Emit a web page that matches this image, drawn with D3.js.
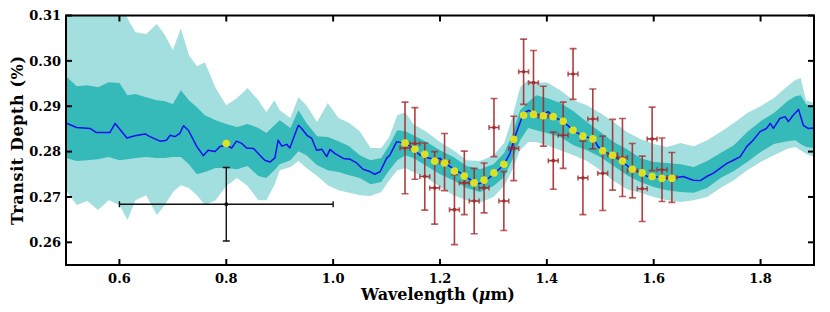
<!DOCTYPE html>
<html>
<head>
<meta charset="utf-8">
<script src="https://cdn.jsdelivr.net/npm/d3@7/dist/d3.min.js"></script>
<style>
  html, body { margin: 0; padding: 0; background: #fff; }
  svg { display: block; }
</style>
</head>
<body>
<svg id="chart" width="830" height="312"></svg>
<script>
// ---------------- data ----------------
const xTicks = [0.6, 0.8, 1.0, 1.2, 1.4, 1.6, 1.8];
const yTicks = [0.26, 0.27, 0.28, 0.29, 0.30, 0.31];

// median model spectrum
const modelWl = [0.502,0.520,0.545,0.557,0.582,0.592,0.614,0.629,0.648,0.657,0.676,0.688,0.695,0.704,0.713,0.720,0.729,0.745,0.757,0.766,0.779,0.788,0.800,0.810,0.819,0.829,0.838,0.851,0.863,0.872,0.882,0.891,0.897,0.904,0.913,0.919,0.929,0.935,0.941,0.951,0.960,0.969,0.979,0.988,0.994,1.003,1.019,1.032,1.044,1.056,1.069,1.078,1.088,1.100,1.106,1.119,1.134,1.144,1.163,1.181,1.200,1.209,1.219,1.238,1.256,1.269,1.282,1.300,1.319,1.331,1.338,1.347,1.356,1.366,1.375,1.387,1.403,1.412,1.431,1.449,1.467,1.478,1.487,1.496,1.504,1.515,1.523,1.541,1.552,1.560,1.578,1.588,1.597,1.615,1.634,1.655,1.674,1.687,1.699,1.711,1.724,1.737,1.749,1.762,1.774,1.786,1.799,1.811,1.818,1.824,1.836,1.846,1.852,1.861,1.871,1.880,1.889,1.900];
const modelDepth = [0.2862,0.2853,0.2851,0.2842,0.2842,0.2862,0.2830,0.2835,0.2839,0.2833,0.2823,0.2825,0.2836,0.2833,0.2840,0.2857,0.2847,0.2811,0.2791,0.2803,0.2800,0.2811,0.2814,0.2808,0.2823,0.2818,0.2808,0.2807,0.2792,0.2781,0.2777,0.2786,0.2825,0.2812,0.2816,0.2808,0.2840,0.2858,0.2851,0.2836,0.2829,0.2803,0.2805,0.2789,0.2805,0.2796,0.2785,0.2783,0.2775,0.2761,0.2756,0.2750,0.2756,0.2785,0.2792,0.2822,0.2818,0.2812,0.2792,0.2785,0.2785,0.2774,0.2767,0.2753,0.2739,0.2728,0.2733,0.2750,0.2770,0.2796,0.2825,0.2855,0.2884,0.2891,0.2885,0.2880,0.2888,0.2877,0.2866,0.2847,0.2834,0.2831,0.2829,0.2811,0.2802,0.2796,0.2792,0.2779,0.2767,0.2761,0.2753,0.2745,0.2747,0.2741,0.2741,0.2745,0.2737,0.2736,0.2745,0.2752,0.2763,0.2774,0.2781,0.2789,0.2811,0.2825,0.2844,0.2851,0.2862,0.2851,0.2873,0.2877,0.2866,0.2880,0.2893,0.2858,0.2851,0.2852];

// credible-interval bands
const bandWl = [0.50,0.52,0.54,0.56,0.58,0.60,0.615,0.63,0.65,0.67,0.685,0.70,0.715,0.73,0.745,0.76,0.78,0.80,0.82,0.84,0.86,0.875,0.89,0.90,0.92,0.935,0.95,0.97,0.99,1.01,1.03,1.05,1.07,1.09,1.105,1.12,1.135,1.15,1.175,1.20,1.225,1.25,1.275,1.30,1.32,1.335,1.35,1.365,1.38,1.40,1.425,1.45,1.475,1.50,1.525,1.55,1.575,1.60,1.625,1.65,1.675,1.70,1.725,1.75,1.775,1.80,1.825,1.85,1.865,1.875,1.885,1.90];
const band2Hi = [0.3156,0.3156,0.3156,0.3156,0.3156,0.3145,0.3094,0.3063,0.3059,0.3081,0.3057,0.3024,0.3072,0.3013,0.2988,0.2997,0.2940,0.2902,0.2918,0.2940,0.2913,0.2887,0.2913,0.2891,0.2874,0.2920,0.2902,0.2865,0.2907,0.2874,0.2863,0.2845,0.2808,0.2808,0.2832,0.2880,0.2887,0.2861,0.2843,0.2821,0.2803,0.2781,0.2779,0.2792,0.2819,0.2874,0.2942,0.2958,0.2951,0.2953,0.2935,0.2913,0.2902,0.2885,0.2865,0.2843,0.2828,0.2817,0.2810,0.2819,0.2812,0.2825,0.2843,0.2863,0.2885,0.2900,0.2918,0.2944,0.2958,0.2962,0.2913,0.2907];
const band1Hi = [0.2966,0.2944,0.2946,0.2942,0.2953,0.2951,0.2924,0.2927,0.2920,0.2913,0.2911,0.2905,0.2935,0.2913,0.2898,0.2880,0.2869,0.2861,0.2854,0.2861,0.2852,0.2841,0.2858,0.2869,0.2852,0.2891,0.2863,0.2834,0.2832,0.2823,0.2812,0.2792,0.2781,0.2786,0.2814,0.2847,0.2845,0.2836,0.2821,0.2803,0.2788,0.2768,0.2761,0.2772,0.2797,0.2836,0.2891,0.2909,0.2924,0.2918,0.2907,0.2889,0.2865,0.2843,0.2821,0.2805,0.2786,0.2777,0.2775,0.2772,0.2766,0.2779,0.2797,0.2814,0.2843,0.2867,0.2885,0.2911,0.2922,0.2924,0.2905,0.2896];
const band1Lo = [0.2786,0.2779,0.2781,0.2783,0.2788,0.2781,0.2783,0.2786,0.2788,0.2786,0.2786,0.2788,0.2788,0.2772,0.2750,0.2755,0.2764,0.2764,0.2761,0.2768,0.2746,0.2742,0.2759,0.2772,0.2781,0.2801,0.2792,0.2770,0.2759,0.2755,0.2748,0.2742,0.2728,0.2733,0.2759,0.2781,0.2792,0.2786,0.2768,0.2750,0.2737,0.2720,0.2711,0.2724,0.2744,0.2781,0.2825,0.2852,0.2847,0.2841,0.2832,0.2814,0.2803,0.2788,0.2768,0.2748,0.2733,0.2722,0.2715,0.2711,0.2709,0.2720,0.2742,0.2757,0.2777,0.2799,0.2817,0.2823,0.2825,0.2817,0.2810,0.2808];
const band2Lo = [0.2715,0.2682,0.2691,0.2671,0.2693,0.2682,0.2649,0.2693,0.2704,0.2660,0.2682,0.2711,0.2726,0.2720,0.2704,0.2682,0.2693,0.2724,0.2742,0.2724,0.2693,0.2693,0.2726,0.2759,0.2766,0.2779,0.2764,0.2746,0.2726,0.2715,0.2709,0.2704,0.2702,0.2711,0.2737,0.2759,0.2764,0.2755,0.2742,0.2722,0.2704,0.2693,0.2687,0.2700,0.2724,0.2759,0.2803,0.2821,0.2821,0.2814,0.2803,0.2792,0.2779,0.2759,0.2735,0.2717,0.2709,0.2700,0.2693,0.2689,0.2693,0.2700,0.2720,0.2737,0.2759,0.2777,0.2792,0.2806,0.2810,0.2803,0.2795,0.2788];

// WFC3 observations
const obsWl = [1.1345,1.1530,1.1715,1.1900,1.2085,1.2270,1.2455,1.2640,1.2825,1.3010,1.3195,1.3380,1.3565,1.3750,1.3935,1.4120,1.4305,1.4490,1.4675,1.4860,1.5045,1.5230,1.5415,1.5600,1.5785,1.5970,1.6155,1.6340];
const obsDepth = [0.2808,0.2818,0.2745,0.2720,0.2777,0.2672,0.2731,0.2691,0.2720,0.2853,0.2691,0.2807,0.2976,0.2952,0.2878,0.2780,0.2836,0.2971,0.2742,0.2872,0.2752,0.2793,0.2787,0.2758,0.2718,0.2828,0.2760,0.2743];
const obsErr = [0.0101,0.0079,0.0074,0.0080,0.0063,0.0077,0.0070,0.0072,0.0055,0.0064,0.0065,0.0071,0.0072,0.0071,0.0066,0.0063,0.0073,0.0056,0.0081,0.0066,0.0082,0.0078,0.0086,0.0060,0.0072,0.0070,0.0070,0.0055];
const obsHalfBin = 0.00925;
const binnedModel = [0.2819,0.2805,0.2794,0.2779,0.2775,0.2757,0.2746,0.2731,0.2737,0.2753,0.2772,0.2827,0.2880,0.2882,0.2879,0.2877,0.2867,0.2847,0.2834,0.2828,0.2802,0.2792,0.2779,0.2761,0.2753,0.2745,0.2741,0.2741];

// broadband (optical) point
const bbWl = [0.8], bbDepth = [0.2684], bbErr = [0.0081], bbHalfWidth = [0.2];
const bbModel = [0.2818];

// ---------------- layout ----------------
const svg = d3.select("#chart");
const L = 66, R = 814, T = 15.5, B = 265;
const x = d3.scaleLinear().domain([0.5, 1.9]).range([L, R]);
const y = d3.scaleLinear().domain([0.255, 0.31]).range([B, T]);

svg.append("defs").append("clipPath").attr("id", "clip")
  .append("rect").attr("x", L).attr("y", T).attr("width", R - L).attr("height", B - T);

const plot = svg.append("g").attr("clip-path", "url(#clip)");

const band = bandWl.map((w, i) => ({w, h2: band2Hi[i], h1: band1Hi[i], l1: band1Lo[i], l2: band2Lo[i]}));

plot.append("path").datum(band)
  .attr("d", d3.area().x(d => x(d.w)).y0(d => y(d.l2)).y1(d => y(d.h2)))
  .attr("fill", "#a4dfdf");
plot.append("path").datum(band)
  .attr("d", d3.area().x(d => x(d.w)).y0(d => y(d.l1)).y1(d => y(d.h1)))
  .attr("fill", "#35b9b9");

plot.append("path").datum(modelWl.map((w, i) => [w, modelDepth[i]]))
  .attr("d", d3.line().x(d => x(d[0])).y(d => y(d[1])))
  .attr("fill", "none").attr("stroke", "#1010f0").attr("stroke-width", 1.5)
  .attr("stroke-linejoin", "round");

// broadband black error bar
const bb = plot.append("g").attr("stroke", "#111").attr("stroke-width", 1.4).attr("fill", "none");
bbWl.forEach((w, i) => {
  const cx = x(w), cy = y(bbDepth[i]);
  const x0 = x(w - bbHalfWidth[i]), x1 = x(w + bbHalfWidth[i]);
  const y0 = y(bbDepth[i] - bbErr[i]), y1 = y(bbDepth[i] + bbErr[i]);
  bb.append("line").attr("x1", x0).attr("x2", x1).attr("y1", cy).attr("y2", cy);
  bb.append("line").attr("x1", cx).attr("x2", cx).attr("y1", y0).attr("y2", y1);
  [x0, x1].forEach(xx => bb.append("line").attr("x1", xx).attr("x2", xx).attr("y1", cy - 3).attr("y2", cy + 3));
  [y0, y1].forEach(yy => bb.append("line").attr("x1", cx - 3.5).attr("x2", cx + 3.5).attr("y1", yy).attr("y2", yy));
  plot.append("circle").attr("cx", cx).attr("cy", cy).attr("r", 2).attr("fill", "#111");
});

// WFC3 red error bars
const eb = plot.append("g").attr("stroke", "#a52a2a").attr("stroke-width", 1.6).attr("fill", "none").attr("stroke-opacity", 0.9);
obsWl.forEach((w, i) => {
  const cx = x(w), cy = y(obsDepth[i]);
  const x0 = x(w - obsHalfBin), x1 = x(w + obsHalfBin);
  const y0 = y(obsDepth[i] - obsErr[i]), y1 = y(obsDepth[i] + obsErr[i]);
  eb.append("line").attr("x1", cx).attr("x2", cx).attr("y1", y0).attr("y2", y1);
  eb.append("line").attr("x1", x0).attr("x2", x1).attr("y1", cy).attr("y2", cy);
  [y0, y1].forEach(yy => eb.append("line").attr("x1", cx - 3.5).attr("x2", cx + 3.5).attr("y1", yy).attr("y2", yy).attr("stroke-opacity", 0.75));
  [x0, x1].forEach(xx => eb.append("line").attr("x1", xx).attr("x2", xx).attr("y1", cy - 2.5).attr("y2", cy + 2.5).attr("stroke-opacity", 0.75));
  plot.append("circle").attr("cx", cx).attr("cy", cy).attr("r", 1.8).attr("fill", "#a52a2a");
});

// binned model points
const yel = plot.append("g");
obsWl.forEach((w, i) => {
  yel.append("circle").attr("cx", x(w)).attr("cy", y(binnedModel[i])).attr("r", 3.8)
    .attr("fill", "#e4e61c").attr("fill-opacity", 0.95);
});
bbWl.forEach((w, i) => {
  yel.append("circle").attr("cx", x(w)).attr("cy", y(bbModel[i])).attr("r", 3.8)
    .attr("fill", "#e4e61c").attr("fill-opacity", 0.95);
});

// ---------------- axes & frame ----------------
const tickLen = 6;
const axes = svg.append("g").attr("stroke", "#000").attr("stroke-width", 2);
xTicks.forEach(t => {
  axes.append("line").attr("x1", x(t)).attr("x2", x(t)).attr("y1", B).attr("y2", B - tickLen);
  axes.append("line").attr("x1", x(t)).attr("x2", x(t)).attr("y1", T).attr("y2", T + tickLen);
});
yTicks.forEach(t => {
  axes.append("line").attr("x1", L).attr("x2", L + tickLen).attr("y1", y(t)).attr("y2", y(t));
  axes.append("line").attr("x1", R).attr("x2", R - tickLen).attr("y1", y(t)).attr("y2", y(t));
});
svg.append("rect").attr("x", L).attr("y", T).attr("width", R - L).attr("height", B - T)
  .attr("fill", "none").attr("stroke", "#000").attr("stroke-width", 2);

const font = "'DejaVu Serif', serif";
svg.append("g").selectAll("text").data(xTicks).join("text")
  .attr("x", d => x(d)).attr("y", 282.5)
  .attr("text-anchor", "middle").attr("font-family", font).attr("font-weight", "bold").attr("font-size", 13)
  .text(d => d3.format(".1f")(d));
svg.append("g").selectAll("text").data(yTicks).join("text")
  .attr("x", 61).attr("y", d => y(d) + 4.7)
  .attr("text-anchor", "end").attr("font-family", font).attr("font-weight", "bold").attr("font-size", 13)
  .text(d => d3.format(".2f")(d));

const xl = svg.append("text").attr("x", (L + R) / 2 - 2).attr("y", 300)
  .attr("text-anchor", "middle").attr("font-family", font).attr("font-weight", "bold").attr("font-size", 16);
xl.append("tspan").text("Wavelength (");
xl.append("tspan").attr("font-style", "italic").text("μ");
xl.append("tspan").text("m)");

svg.append("text").attr("transform", `translate(23,${(T + B) / 2}) rotate(-90)`)
  .attr("text-anchor", "middle").attr("font-family", font).attr("font-weight", "bold").attr("font-size", 16)
  .attr("letter-spacing", 0.6)
  .text("Transit Depth (%)");
</script>
</body>
</html>
